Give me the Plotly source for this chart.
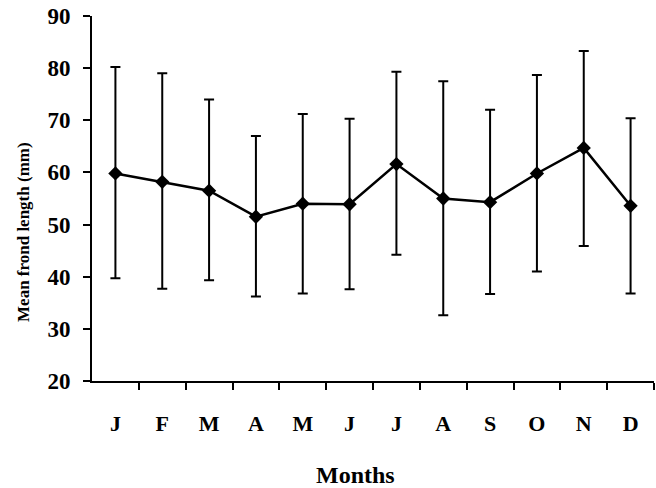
import plotly.graph_objects as go

months = ["J", "F", "M", "A", "M", "J", "J", "A", "S", "O", "N", "D"]
mean_len = [59.8, 58.2, 56.5, 51.5, 54.0, 53.9, 61.6, 55.0, 54.3, 59.8, 64.7, 53.6]
upper = [80.2, 79.0, 74.0, 67.0, 71.2, 70.3, 79.3, 77.5, 72.0, 78.7, 83.3, 70.4]
lower = [39.7, 37.7, 39.3, 36.2, 36.8, 37.6, 44.2, 32.6, 36.7, 41.0, 45.9, 36.8]
y_ticks = [20, 30, 40, 50, 60, 70, 80, 90]

x = list(range(len(months)))
err_plus = [u - m for u, m in zip(upper, mean_len)]
err_minus = [m - l for m, l in zip(mean_len, lower)]

font_family = "Liberation Serif"

fig = go.Figure(go.Scatter(
    x=x, y=mean_len, mode="lines+markers",
    line=dict(color="black", width=2.5),
    marker=dict(symbol="diamond", size=11, color="black"),
    error_y=dict(type="data", symmetric=False, array=err_plus, arrayminus=err_minus,
                 color="black", thickness=2, width=5),
    showlegend=False,
))

fig.update_layout(
    width=656, height=488,
    margin=dict(l=92, r=2, t=16, b=107),
    paper_bgcolor="white", plot_bgcolor="white",
    font=dict(family=font_family, color="black"),
    xaxis=dict(
        range=[-0.5, 11.5],
        tickmode="array", tickvals=x, ticktext=[f"<b>{m}</b>" for m in months],
        ticks="", tickfont=dict(size=22, family=font_family),
        ticklabelstandoff=22,
        showline=True, linecolor="black", linewidth=2,
        showgrid=False, zeroline=False,
        minor=dict(tickvals=[i + 0.5 for i in range(12)], ticks="outside",
                   ticklen=7, tickwidth=2, tickcolor="black", showgrid=False),
    ),
    yaxis=dict(
        range=[20, 90], tickmode="array", tickvals=y_ticks,
        ticktext=[f"<b>{v}</b>" for v in y_ticks],
        ticks="outside", ticklen=7, tickwidth=2, tickcolor="black",
        tickfont=dict(size=23, family=font_family),
        ticklabelstandoff=8,
        showline=True, linecolor="black", linewidth=2,
        showgrid=False, zeroline=False,
    ),
    annotations=[
        dict(text="<b>Mean frond length (mm)</b>", textangle=-90,
             xref="paper", yref="paper", x=-0.123, y=0.408,
             xanchor="center", yanchor="middle", showarrow=False,
             font=dict(size=17, family=font_family)),
        dict(text="<b>Months</b>",
             xref="paper", yref="paper", x=0.468, y=-0.2575,
             xanchor="center", yanchor="middle", showarrow=False,
             font=dict(size=24, family=font_family)),
    ],
)

fig.write_html("out.html")
